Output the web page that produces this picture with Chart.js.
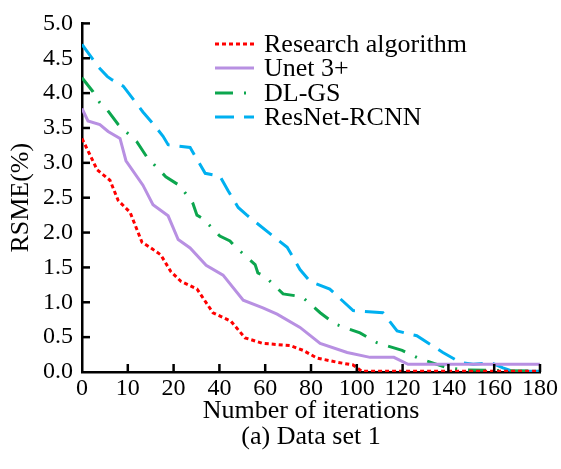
<!DOCTYPE html>
<html>
<head>
<meta charset="utf-8">
<script src="https://cdn.jsdelivr.net/npm/chart.js@4.4.0/dist/chart.umd.min.js"></script>
<style>
	html, body { margin: 0; padding: 0; background: #fff; }
</style>
</head>
<body>
<canvas id="rsmeChart" width="561" height="469"></canvas>
<script>
// tick labels on the x axis (evenly spaced, as in the figure)
var xLabels = ["0", "10", "20", "40", "60", "80", "100", "120", "140", "160", "180"];

// x positions are in tick units (0 = "0", 10 = "180")
var researchX = [0, 0.17, 0.33, 0.61, 0.79, 1.05, 1.31, 1.48, 1.72, 1.94, 2.16, 2.51, 2.86, 3.25, 3.56, 3.95, 4.54, 4.83, 5.13, 5.57, 5.92, 6.11, 10];
var researchY = [3.35, 3.12, 2.9, 2.75, 2.46, 2.29, 1.86, 1.79, 1.68, 1.44, 1.3, 1.19, 0.85, 0.73, 0.49, 0.41, 0.38, 0.31, 0.2, 0.14, 0.1, 0.01, 0.01];

var unetX = [0, 0.13, 0.39, 0.57, 0.83, 0.96, 1.33, 1.55, 1.88, 2.1, 2.36, 2.71, 3.08, 3.52, 3.95, 4.26, 4.76, 5.2, 5.79, 6.29, 6.81, 7.12, 10];
var unetY = [3.78, 3.6, 3.55, 3.45, 3.35, 3.03, 2.68, 2.4, 2.24, 1.9, 1.78, 1.53, 1.39, 1.03, 0.92, 0.83, 0.64, 0.41, 0.28, 0.21, 0.21, 0.11, 0.11];

var dlgsX = [0, 0.24, 0.39, 0.55, 0.79, 1.2, 1.42, 1.83, 2.14, 2.42, 2.51, 2.64, 3.01, 3.23, 3.34, 3.78, 3.84, 4.0, 4.39, 4.8, 5.2, 5.52, 6.07, 6.44, 6.99, 7.34, 7.93, 8.32, 10];
var dlgsY = [4.22, 4.02, 3.86, 3.76, 3.55, 3.3, 3.08, 2.8, 2.67, 2.42, 2.25, 2.2, 1.95, 1.88, 1.8, 1.54, 1.42, 1.37, 1.12, 1.08, 0.85, 0.69, 0.56, 0.42, 0.31, 0.2, 0.07, 0.03, 0.01];

var resnetX = [0, 0.35, 0.55, 0.66, 0.9, 1.33, 1.59, 1.77, 1.88, 2.36, 2.69, 3.01, 3.19, 3.41, 3.6, 4.15, 4.48, 4.76, 4.98, 5.41, 5.92, 6.57, 6.88, 7.05, 7.31, 7.88, 8.25, 8.54, 8.95, 9.19, 9.41, 10];
var resnetY = [4.7, 4.38, 4.24, 4.19, 4.1, 3.73, 3.53, 3.38, 3.26, 3.22, 2.85, 2.81, 2.6, 2.36, 2.25, 1.96, 1.79, 1.47, 1.3, 1.19, 0.88, 0.85, 0.59, 0.56, 0.52, 0.28, 0.14, 0.11, 0.13, 0.06, 0.01, 0.01];

var yTicks = [0, 0.5, 1, 1.5, 2, 2.5, 3, 3.5, 4, 4.5, 5];

function toPoints(xs, ys) {
	var pts = [];
	for (var i = 0; i < xs.length; i++) {
		pts.push({ x: xs[i], y: ys[i] });
	}
	return pts;
}

var serif = "'Liberation Serif', 'Times New Roman', serif";

// inward tick marks, legend box and caption
var decorPlugin = {
	id: "decor",
	afterDraw: function (chart) {
		var ctx = chart.ctx;
		var area = chart.chartArea;
		var xs = chart.scales.x;
		var ys = chart.scales.y;
		ctx.save();
		ctx.strokeStyle = "#000";
		ctx.lineWidth = 2.5;
		for (var i = 1; i < xLabels.length; i++) {
			var px = xs.getPixelForValue(i);
			ctx.beginPath();
			ctx.moveTo(px, area.bottom);
			ctx.lineTo(px, area.bottom - 8);
			ctx.stroke();
		}
		for (var j = 1; j < yTicks.length; j++) {
			var py = ys.getPixelForValue(yTicks[j]);
			ctx.beginPath();
			ctx.moveTo(area.left, py);
			ctx.lineTo(area.left + 8, py);
			ctx.stroke();
		}

		// legend
		var rowY = [44, 68, 93, 117];
		ctx.font = "26px " + serif;
		ctx.textBaseline = "middle";
		ctx.textAlign = "left";
		chart.data.datasets.forEach(function (ds, k) {
			ctx.strokeStyle = ds.borderColor;
			ctx.lineWidth = ds.borderWidth;
			ctx.setLineDash(ds.borderDash || []);
			ctx.beginPath();
			ctx.moveTo(215, rowY[k]);
			ctx.lineTo(254, rowY[k]);
			ctx.stroke();
			ctx.setLineDash([]);
			ctx.fillStyle = "#000";
			ctx.fillText(ds.label, 264, rowY[k] + 1);
		});

		ctx.textAlign = "center";
		ctx.fillText("(a) Data set 1", 311, 437);
		ctx.restore();
	}
};

var ctxa = document.getElementById("rsmeChart").getContext("2d");

var rsmeChart = new Chart(ctxa, {
	type: "line",
	data: {
		datasets: [
			{
				label: "Research algorithm",
				data: toPoints(researchX, researchY),
				borderColor: "#FF0000",
				borderWidth: 3,
				borderDash: [4, 3]
			},
			{
				label: "Unet 3+",
				data: toPoints(unetX, unetY),
				borderColor: "#B890E2",
				borderWidth: 3
			},
			{
				label: "DL-GS",
				data: toPoints(dlgsX, dlgsY),
				borderColor: "#0CA64E",
				borderWidth: 3,
				borderDash: [18, 11, 2, 11]
			},
			{
				label: "ResNet-RCNN",
				data: toPoints(resnetX, resnetY),
				borderColor: "#00B0F0",
				borderWidth: 3,
				borderDash: [19, 10]
			}
		]
	},
	options: {
		responsive: false,
		animation: false,
		layout: { padding: { top: 18, right: 21, bottom: 0, left: 0 } },
		elements: {
			point: { radius: 0 },
			line: { tension: 0, fill: false }
		},
		plugins: {
			legend: { display: false },
			tooltip: { enabled: false }
		},
		scales: {
			x: {
				type: "linear",
				min: 0,
				max: 10,
				afterFit: function (scale) { scale.height = 97; },
				grid: { display: false, drawTicks: false },
				border: { display: true, color: "#000", width: 2.5 },
				ticks: {
					stepSize: 1,
					padding: 2,
					color: "#000",
					font: { family: serif, size: 24 },
					maxRotation: 0,
					callback: function (value) { return xLabels[value]; }
				},
				title: {
					display: true,
					text: "Number of iterations",
					color: "#000",
					font: { family: serif, size: 26 },
					padding: { top: 0, bottom: 42 }
				}
			},
			y: {
				min: 0,
				max: 5,
				afterFit: function (scale) { scale.width = 82; },
				grid: { display: false, drawTicks: false },
				border: { display: true, color: "#000", width: 2.5 },
				ticks: {
					stepSize: 0.5,
					padding: 9,
					color: "#000",
					font: { family: serif, size: 24 },
					callback: function (value) { return value.toFixed(1); }
				},
				title: {
					display: true,
					text: "RSME(%)",
					color: "#000",
					font: { family: serif, size: 26 },
					padding: { top: 6, bottom: 0 }
				}
			}
		}
	},
	plugins: [decorPlugin]
});
</script>
</body>
</html>
